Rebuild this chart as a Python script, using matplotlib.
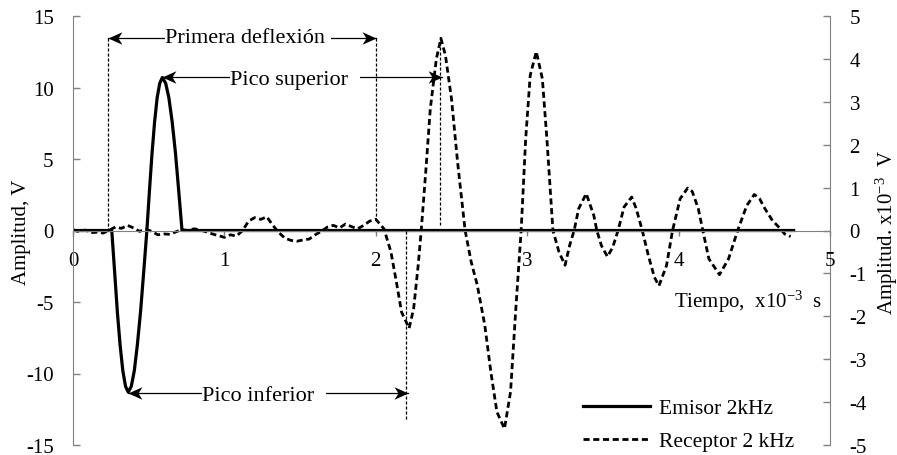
import matplotlib
matplotlib.use("Agg")
import matplotlib.pyplot as plt
from matplotlib.path import Path
from matplotlib.markers import MarkerStyle
from matplotlib.lines import Line2D

plt.rcParams["font.family"] = ["Liberation Serif", "DejaVu Serif"]
plt.rcParams["mathtext.fontset"] = "custom"
plt.rcParams["mathtext.rm"] = "Liberation Serif"
plt.rcParams["mathtext.it"] = "Liberation Serif:italic"
plt.rcParams["mathtext.default"] = "regular"
plt.rcParams["axes.unicode_minus"] = False

# ---- Emisor 2 kHz (V, left axis) ----
emisor_t = [0.00, 0.256, 0.275, 0.293, 0.311, 0.329, 0.347, 0.365, 0.385, 0.405,
            0.425, 0.446, 0.467, 0.488, 0.505, 0.522, 0.539, 0.556, 0.573, 0.590,
            0.612, 0.633, 0.655, 0.677, 0.698, 0.720, 4.76]
emisor_v = [0.0, 0.0, -2.9, -5.7, -8.0, -9.8, -10.9, -11.3, -10.9, -9.8,
            -8.0, -5.7, -2.9, 0.0, 2.8, 5.4, 7.6, 9.3, 10.3, 10.7,
            10.3, 9.3, 7.6, 5.4, 2.8, 0.0, 0.0]

# ---- Receptor 2 kHz (x10^-3 V, right axis) ----
receptor_t = [0.00, 0.04, 0.08, 0.12, 0.16, 0.20, 0.24, 0.28, 0.32, 0.36,
              0.40, 0.44, 0.48, 0.52, 0.56, 0.60, 0.64, 0.68, 0.72, 0.76,
              0.80, 0.84, 0.88, 0.92, 0.96, 1.00, 1.04, 1.08, 1.12, 1.16,
              1.20, 1.24, 1.28, 1.32, 1.36, 1.40, 1.44, 1.48, 1.52, 1.56,
              1.60, 1.64, 1.68, 1.72, 1.76, 1.80, 1.84, 1.88, 1.92, 1.96,
              2.00, 2.054, 2.10, 2.14, 2.17, 2.22, 2.25, 2.28, 2.30, 2.33,
              2.36, 2.40, 2.43, 2.46, 2.50, 2.54, 2.59, 2.63, 2.67, 2.72,
              2.76, 2.80, 2.85, 2.89, 2.925, 2.96, 2.99, 3.02, 3.06, 3.10,
              3.13, 3.17, 3.21, 3.25, 3.28, 3.31, 3.34, 3.39, 3.44, 3.46,
              3.49, 3.53, 3.565, 3.60, 3.64, 3.69, 3.72, 3.76, 3.80, 3.84,
              3.87, 3.92, 3.96, 4.01, 4.06, 4.09, 4.13, 4.16, 4.20, 4.27,
              4.33, 4.39, 4.45, 4.50, 4.535, 4.57, 4.62, 4.67, 4.70, 4.74]
receptor_v = [0.02, -0.03, 0.01, -0.05, -0.04, -0.06, 0.01, 0.08, 0.05, 0.12,
              0.06, -0.02, 0.03, -0.02, -0.10, -0.08, -0.09, -0.03, 0.02, 0.00,
              0.04, 0.01, -0.03, -0.08, -0.12, -0.16, -0.10, -0.13, 0.00, 0.22,
              0.30, 0.26, 0.32, 0.12, -0.05, -0.18, -0.23, -0.25, -0.22, -0.20,
              -0.10, -0.02, 0.08, 0.12, 0.06, 0.15, 0.09, 0.04, 0.12, 0.22,
              0.26, 0.04, -0.50, -1.28, -1.90, -2.28, -1.82, -0.81, 0.00, 1.37,
              2.84, 4.00, 4.48, 4.08, 3.07, 1.60, 0.00, -0.73, -1.27, -2.21,
              -3.30, -4.23, -4.62, -3.76, -1.82, 0.00, 2.14, 3.62, 4.17, 3.54,
              2.14, 0.00, -0.50, -0.81, -0.35, 0.00, 0.51, 0.86, 0.35, 0.00,
              -0.35, -0.61, -0.39, 0.00, 0.55, 0.78, 0.51, 0.00, -0.58, -1.09,
              -1.29, -0.82, 0.00, 0.74, 0.99, 0.91, 0.51, 0.00, -0.66, -1.03,
              -0.66, 0.00, 0.58, 0.84, 0.74, 0.51, 0.23, 0.05, -0.08, -0.14]

x_ticks = [0, 1, 2, 3, 4, 5]
left_ticks = [-15, -10, -5, 0, 5, 10, 15]
right_ticks = [-5, -4, -3, -2, -1, 0, 1, 2, 3, 4, 5]

GRAY = "#808080"
FS = 15
DASH = (0, (2.2, 1.3))

fig = plt.figure(figsize=(8.97, 4.56), dpi=100)
ax = fig.add_axes([73 / 897, 10 / 456, 757 / 897, 429 / 456])
ax2 = ax.twinx()
ax.set_zorder(ax2.get_zorder() + 1)
ax.patch.set_visible(False)

ax.set_xlim(0, 5)
ax.set_ylim(-15, 15)
ax2.set_ylim(-5, 5)

# Receptor on the secondary axis
ax2.plot(receptor_t, receptor_v, color="black", lw=2.0,
         linestyle=DASH, dash_capstyle="butt")
# Emisor on the primary axis
ax.plot(emisor_t, emisor_v, color="black", lw=2.3, solid_joinstyle="round")

# Spines and ticks
for s in ("top", "right"):
    ax.spines[s].set_visible(False)
ax.spines["bottom"].set_position(("data", 0))
ax.spines["bottom"].set_color(GRAY)
ax.spines["left"].set_color(GRAY)
for s in ("top", "left", "bottom"):
    ax2.spines[s].set_visible(False)
ax2.spines["right"].set_color(GRAY)

ax.set_xticks(x_ticks)
ax.set_yticks(left_ticks)
ax2.set_yticks(right_ticks)
ax.tick_params(axis="x", direction="out", length=3.6, width=1, color=GRAY,
               pad=10.8, labelsize=FS)
ax.tick_params(axis="y", direction="in", length=5, width=1, color=GRAY,
               pad=14, labelsize=FS)
ax2.tick_params(axis="y", direction="in", length=5, width=1, color=GRAY,
                pad=14, labelsize=FS)

# Axis titles
fig.text(22 / 897, 1 - 232 / 456, "Amplitud, V", rotation=90,
         ha="center", va="center", fontsize=FS)
fig.text(887 / 897, 1 - 232 / 456, "Amplitud. x10$^{-3}$  V", rotation=90,
         ha="center", va="center", fontsize=FS)
ax.text(4.95, -5.31, "Tiempo,  x10$^{-3}$  s", ha="right", va="baseline",
        fontsize=FS)


def stealth(direction):
    verts = [(0, 0), (-1, 0.45), (-0.72, 0), (-1, -0.45), (0, 0)]
    if direction < 0:
        verts = [(-x, y) for x, y in verts]
    codes = [Path.MOVETO, Path.LINETO, Path.LINETO, Path.LINETO, Path.CLOSEPOLY]
    return MarkerStyle(Path(verts, codes))


def span_arrow(x0, x1, y, label, x_text, y_text):
    ax.plot([x0, x1], [y, y], color="black", lw=0.9, zorder=4)
    ax.plot([x0], [y], marker=stealth(-1), ms=20, color="black", mew=0,
            ls="none", zorder=5)
    ax.plot([x1], [y], marker=stealth(1), ms=20, color="black", mew=0,
            ls="none", zorder=5)
    ax.text(x_text, y_text, label, ha="left", va="baseline", fontsize=16,
            zorder=6, bbox=dict(fc="white", ec="none", pad=0))


DOT = dict(color="black", lw=0.9, linestyle=(0, (2.5, 1.5)), zorder=3)
ax.plot([0.232, 0.232], [13.43, 0.0], **DOT)
ax.plot([2.0, 2.0], [13.43, 0.8], **DOT)
ax.plot([2.424, 2.424], [13.5, 0.4], **DOT)
ax.plot([2.2, 2.2], [0.0, -13.3], **DOT)

span_arrow(0.232, 2.0, 13.43, "Primera deflexión ", 0.609, 13.2)
span_arrow(0.59, 2.44, 10.7, "Pico superior  ", 1.039, 10.24)
span_arrow(0.362, 2.21, -11.33, "Pico inferior  ", 0.854, -11.87)

# Legend
handles = [
    Line2D([], [], color="black", lw=2.3),
    Line2D([], [], color="black", lw=2.0, linestyle=DASH),
]
ax.legend(handles, ["Emisor 2kHz", "Receptor 2 kHz"], loc="upper left",
          bbox_to_anchor=(583 / 897, 1 - 399 / 456),
          bbox_transform=fig.transFigure, frameon=False, borderpad=0,
          borderaxespad=0, handlelength=3.1, handletextpad=0.45,
          labelspacing=0.62, fontsize=15.5)

fig.savefig("out.png", dpi=100)
